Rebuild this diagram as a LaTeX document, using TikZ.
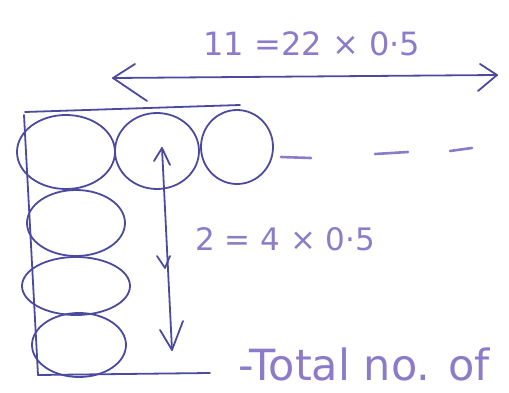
\documentclass[tikz,border=0pt]{standalone}
\usepackage{fontspec}
\setmainfont{DejaVu Sans}
\usepackage{graphicx}
\definecolor{ink}{HTML}{4B4A9E}
\definecolor{lav}{HTML}{8B7BC9}
\begin{document}
\begin{tikzpicture}[x=1pt,y=-1pt,
  pen/.style={draw=ink,line width=1.8pt,line cap=round,line join=round},
  bub/.style={pen},
  lbl/.style={text=lav,inner sep=0pt,anchor=west},
  dsh/.style={draw=lav,line width=2.6pt,line cap=round}]
\useasboundingbox (0,0) rectangle (509,393);
% frame lines
\coordinate (tl) at (25,112);
\coordinate (tr) at (240,105);
\coordinate (bl) at (38,375);
\coordinate (br) at (210,373);
\draw[pen] (tl) -- (tr);
\draw[pen] (24,115) -- (bl);
\draw[pen] (bl) -- (br);
% bubbles
\draw[bub] (66,152) ellipse [x radius=49,y radius=37];
\draw[bub] (157,151) ellipse [x radius=42,y radius=38];
\draw[bub] (237,147) ellipse [x radius=36,y radius=37];
\draw[bub] (76,223) ellipse [x radius=49,y radius=33];
\draw[bub] (76,286) ellipse [x radius=54,y radius=29];
\draw[bub] (79,345) ellipse [x radius=47,y radius=32];
% top double arrow
\coordinate (ha) at (113,78);
\coordinate (hb) at (497,75);
\draw[pen] (ha) -- (hb);
\draw[pen] (135,64) -- (ha) -- (147,101);
\draw[pen] (480,64) -- (hb) -- (478,91);
% vertical double arrow
\coordinate (va) at (162,148);
\coordinate (vb) at (172,350);
\draw[pen] (va) -- (vb);
\draw[pen] (154,161) -- (va) -- (170,165);
\draw[pen] (160,330) -- (vb) -- (183,321);
\draw[pen] (157,256) -- (165,268) -- (170,256);
% dashes
\draw[dsh] (281,157) -- (311,158);
\draw[dsh] (375,154) -- (408,152);
\draw[dsh] (450,151) -- (472,148);
% labels
\node[lbl,anchor=south west] (t1) at (203,56) {\resizebox{217pt}{!}{11 =22 × 0·5}};
\node[lbl,anchor=south west] (t2) at (195,251) {\resizebox{180pt}{!}{2 = 4 × 0·5}};
\node[lbl,anchor=base west,font=\fontsize{43}{43}\selectfont] (t3) at (238,380) {-Total no. of};
\end{tikzpicture}
\end{document}
